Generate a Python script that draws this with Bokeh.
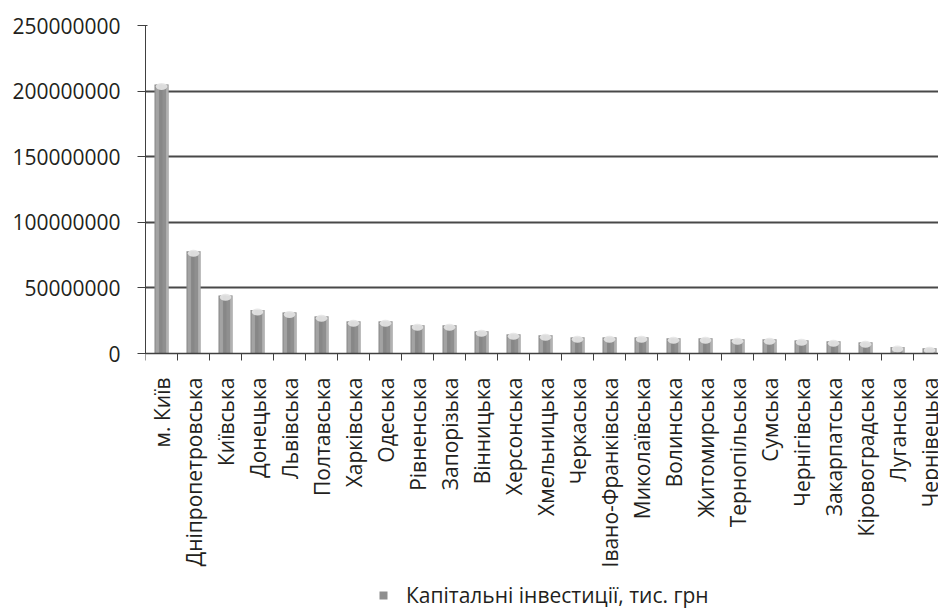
import math
from bokeh.plotting import figure
from bokeh.models import (Range1d, FixedTicker, ColumnDataSource, Legend, LegendItem, LabelSet)
from bokeh.core.properties import value
from bokeh.transform import dodge
from bokeh.embed import file_html
from bokeh.resources import INLINE

regions = ["м. Київ", "Дніпропетровська", "Київська", "Донецька", "Львівська",
           "Полтавська", "Харківська", "Одеська", "Рівненська", "Запорізька",
           "Вінницька", "Херсонська", "Хмельницька", "Черкаська", "Івано-Франківська",
           "Миколаївська", "Волинська", "Житомирська", "Тернопільська", "Сумська",
           "Чернігівська", "Закарпатська", "Кіровоградська", "Луганська", "Чернівецька"]
investments = [205.0e6, 77.9e6, 44.3e6, 33.1e6, 31.3e6,
               28.3e6, 24.5e6, 24.5e6, 21.5e6, 21.5e6,
               16.9e6, 14.6e6, 13.9e6, 12.3e6, 12.3e6,
               12.3e6, 11.6e6, 11.6e6, 10.8e6, 10.8e6,
               10.0e6, 9.3e6, 8.5e6, 4.9e6, 4.0e6]
y_ticks = [0, 50000000, 100000000, 150000000, 200000000, 250000000]
series_name = "Капітальні інвестиції, тис. грн"

FONT = "Open Sans"
TXT = "#231f20"

# layout (pixels)
TOP = 25
PLOT_H = 328          # height of the 0..250M value area
FRAME_H = 613 - TOP   # frame extends down to hold labels and legend
Y_MAX = y_ticks[-1]
Y_MIN = -(FRAME_H - PLOT_H) / PLOT_H * Y_MAX

positions = [i + 0.5 for i in range(len(regions))]
src = ColumnDataSource(dict(x=positions, top=investments, name=regions,
                            base=[0] * len(regions)))

p = figure(x_range=Range1d(0, 793 / 32), y_range=Range1d(Y_MIN, Y_MAX),
           frame_width=793, frame_height=FRAME_H, x_axis_location="above",
           min_border_left=145, min_border_right=0, min_border_top=TOP, min_border_bottom=0,
           output_backend="svg", toolbar_location=None)
p.outline_line_color = None
p.background_fill_color = "white"
p.border_fill_color = "white"

p.xgrid.grid_line_color = None
p.ygrid.ticker = FixedTicker(ticks=y_ticks[1:-1])
p.ygrid.grid_line_color = "#484848"
p.ygrid.grid_line_width = 2

# bars: layered stripes to imitate cylinder shading
base = p.vbar(x="x", top="top", width=0.44, source=src, fill_color="#8f8f8f", line_color=None)
p.vbar(x=dodge("x", -0.13), top="top", width=0.1, source=src, fill_color="#a3a3a3", line_color=None)
p.vbar(x=dodge("x", -0.02), top="top", width=0.1, source=src, fill_color="#878787", line_color=None)
p.vbar(x=dodge("x", 0.18), top="top", width=0.07, source=src, fill_color="#b2b2b2", line_color=None)
p.ellipse(x="x", y=dodge("top", -1500000), width=0.36, height=7, height_units="screen",
          source=src, fill_color="#e6e6e6", line_color=None, fill_alpha=0.9)

# y axis
p.yaxis.bounds = (0, Y_MAX)
p.yaxis.ticker = FixedTicker(ticks=y_ticks, minor_ticks=[])
p.yaxis.major_label_overrides = {t: str(t) for t in y_ticks}
p.yaxis.axis_line_color = "#404040"
p.yaxis.major_tick_line_color = "#404040"
p.yaxis.major_tick_out = 8
p.yaxis.major_tick_in = 2
p.yaxis.major_label_standoff = 17
p.yaxis.major_label_text_font = FONT
p.yaxis.major_label_text_font_size = "21px"
p.yaxis.major_label_text_color = TXT

# x axis line at value 0 with ticks between categories (pointing down)
xa = p.xaxis[0]
xa.fixed_location = 0
xa.ticker = FixedTicker(ticks=[], minor_ticks=list(range(len(regions) + 1)))
xa.major_label_text_font_size = "0px"
xa.major_tick_line_color = None
xa.minor_tick_line_color = "#404040"
xa.minor_tick_in = 7
xa.minor_tick_out = 0
xa.axis_line_color = "#404040"
xa.axis_line_width = 1.5

# category labels
labels = LabelSet(x="x", y="base", text="name", source=src, angle=math.pi / 2,
                  y_offset=-24, text_align="right", text_baseline="middle",
                  text_font=value(FONT), text_font_size=value("21px"), text_color=TXT)
p.add_layout(labels)

legend = Legend(items=[LegendItem(label=series_name, renderers=[base])],
                location=(233, 4), orientation="horizontal",
                padding=0, margin=0, border_line_color=None, background_fill_alpha=0,
                glyph_width=10, glyph_height=10, label_standoff=18,
                label_text_font=FONT, label_text_font_size="21px", label_text_color=TXT)
p.add_layout(legend, "center")

open("out.html", "w").write(file_html(p, INLINE))
